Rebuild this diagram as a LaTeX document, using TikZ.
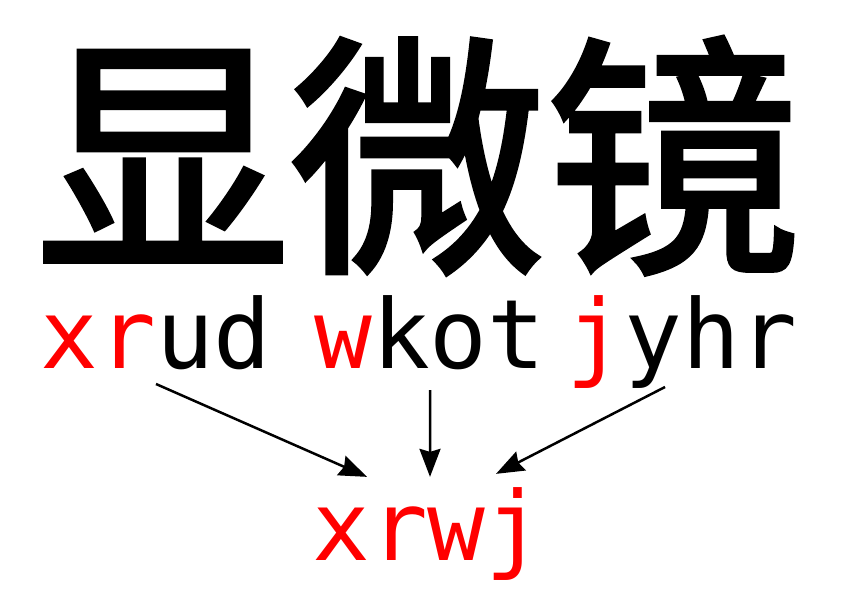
\documentclass[tikz,border=0pt]{standalone}
\usepackage{fontspec}
\newfontfamily\cjk[FakeBold=2]{Noto Sans CJK SC}
\newfontfamily\mono{DejaVu Sans Mono}
\usetikzlibrary{arrows.meta}
\definecolor{hl}{RGB}{255,0,0}
\tikzset{
  hanzi/.style={font=\cjk\fontsize{255bp}{255bp}\selectfont, inner sep=0pt, anchor=base},
  word/.style={font=\mono\fontsize{96bp}{96bp}\selectfont, inner sep=0pt, anchor=base},
  link/.style={line width=2.5bp, -{Stealth[length=28bp,width=21bp,inset=3bp]}},
}
\begin{document}
\begin{tikzpicture}[x=1bp,y=-1bp]
\useasboundingbox (0,0) rectangle (843,596);
% characters
\node[hanzi] (title) at (418,253) {显微镜};
% words
\node[word] (xrud) at (156,368) {{\color{hl}xr}ud};
\node[word] (wkot) at (430,368) {{\color{hl}w}kot};
\node[word] (jyhr) at (682,368) {{\color{hl}j}yhr};
% result
\node[word] (xrwj) at (428,560) {\color{hl}xrwj};
% arrows
\draw[link] ([yshift=-16bp]xrud.base) -- ([xshift=-61bp,yshift=10bp]xrwj.north);
\draw[link] ([yshift=-22bp]wkot.base) -- ([xshift=2bp,yshift=10bp]xrwj.north);
\draw[link] ([xshift=-17bp,yshift=-19bp]jyhr.base) -- ([xshift=68bp,yshift=13bp]xrwj.north);
\end{tikzpicture}
\end{document}
